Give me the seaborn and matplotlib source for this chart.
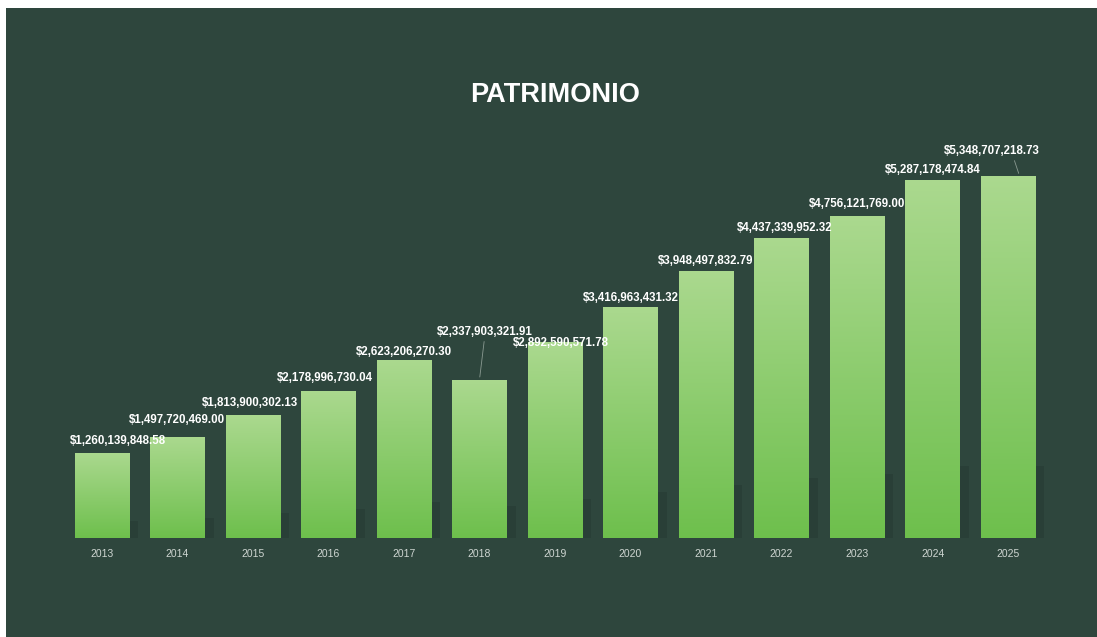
import matplotlib
matplotlib.use("Agg")

import numpy as np
import pandas as pd
import matplotlib.pyplot as plt
import seaborn as sns
from matplotlib.patches import Rectangle

# --------------------------------------------------------------------------- #
# DATA
# --------------------------------------------------------------------------- #
years = ["2013", "2014", "2015", "2016", "2017", "2018", "2019",
         "2020", "2021", "2022", "2023", "2024", "2025"]
patrimonio = [1260139848.58, 1497720469.00, 1813900302.13, 2178996730.04,
              2623206270.30, 2337903321.91, 2892590571.78, 3416963431.32,
              3948497832.79, 4437339952.32, 4756121769.00, 5287178474.84,
              5348707218.73]

# label offsets from bar top, in pixels (dx, dy)
label_offsets = [(16, 12), (0, 17), (-3, 12), (-4, 13), (0, 8), (5, 48),
                 (6, -1), (0, 9), (0, 10), (3, 10), (0, 12), (0, 10), (-16, 25)]
leader = [False, False, False, False, False, True, False,
          False, False, False, False, False, True]

BG = "#2e463d"
TOP = np.array([0.67, 0.85, 0.56])
BOT = np.array([0.43, 0.75, 0.30])

df = pd.DataFrame({"year": years, "value": patrimonio})

# --------------------------------------------------------------------------- #
# FIGURE
# --------------------------------------------------------------------------- #
sns.set_theme(style="white")
plt.rcParams["font.family"] = ["Liberation Sans", "DejaVu Sans"]

fig = plt.figure(figsize=(10.97, 6.37), dpi=100)
fig.patch.set_facecolor("white")
W, H = 1097, 637
fig.patches.append(Rectangle((6 / W, 0), 1 - 6 / W, 1 - 8 / H,
                             transform=fig.transFigure, facecolor=BG,
                             edgecolor="none", zorder=-10))

ax = fig.add_axes([64 / W, 1 - 538 / H, (1046 - 64) / W, (538 - 140) / H])
ax.set_facecolor("none")

sns.barplot(data=df, x="year", y="value", color="#8fcc6c", width=0.72,
            saturation=1, linewidth=0, ax=ax, zorder=3)

ax.set_xlim(-0.5, len(years) - 0.5)
ax.set_ylim(0, 5348707218.73 * 398 / 362)

# gradient fill + soft shadow on each bar
grad = np.linspace(0, 1, 256)[:, None, None]
img = TOP * (1 - grad) + BOT * grad
for p in ax.patches[:]:
    x0, w, h = p.get_x(), p.get_width(), p.get_height()
    ax.add_patch(Rectangle((x0 + w, 0), 0.12, h * 0.2, facecolor="#22342d",
                           edgecolor="none", alpha=0.35, zorder=2))
    im = ax.imshow(img, extent=[x0, x0 + w, 0, h], aspect="auto",
                   origin="upper", zorder=4)
    im.set_clip_path(p)

# value labels
for i, (v, (dx, dy)) in enumerate(zip(patrimonio, label_offsets)):
    ax.annotate(f"${v:,.2f}", xy=(i, v), xytext=(dx, dy),
                textcoords="offset pixels", ha="center", va="center",
                color="white", fontsize=8.3, fontweight="bold", zorder=6)
    if leader[i]:
        ax.annotate("", xy=(i + (0.15 if dx < 0 else 0), v),
                    xytext=(dx + (10 if dx < 0 else 0), dy - 7),
                    textcoords="offset pixels",
                    arrowprops=dict(arrowstyle="-", color="#8a9a92", lw=0.6),
                    zorder=5)

ax.set_xlabel("")
ax.set_ylabel("")
ax.set_yticks([])
ax.tick_params(axis="x", length=0, pad=8, labelsize=7.5, labelcolor="#cfd6d2")
for s in ax.spines.values():
    s.set_visible(False)

fig.text(555 / W, 1 - 95 / H, "PATRIMONIO", ha="center", va="center",
         color="white", fontsize=19.5, fontweight="bold")

fig.savefig("out.png", dpi=100, facecolor=fig.get_facecolor())
plt.close(fig)
